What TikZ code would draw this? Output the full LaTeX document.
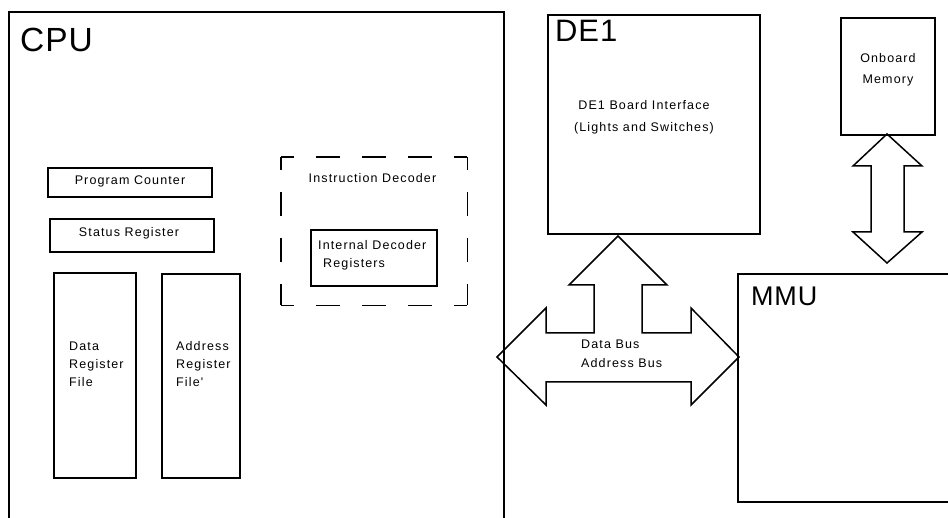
\documentclass[tikz,border=0pt]{standalone}
\usepackage{fontspec}
\setmainfont{Liberation Sans}
\newfontfamily\smallfnt[LetterSpace=9]{Liberation Sans}
\newfontfamily\bigfnt[LetterSpace=3]{Liberation Sans}
\begin{document}
\begin{tikzpicture}[x=1pt,y=-1pt,
  box/.style={draw, line width=1.6pt, rectangle, inner sep=0pt, anchor=north west},
  dline/.style={draw, line width=1.6pt, dash pattern=on 24pt off 22pt},
  lbl/.style={font=\smallfnt\fontsize{12.5}{18}\selectfont, inner sep=0pt},
  big/.style={font=\bigfnt\fontsize{#1}{#1}\selectfont, inner sep=0pt, anchor=base west},
  fat/.style={draw, line width=1.5pt, line join=miter}]
\useasboundingbox (0,0) rectangle (948,518);
\clip (0,0) rectangle (948,518);
% boxes
\node[box, minimum width=495pt, minimum height=530pt] (cpu) at (8,11) {};
\node[box, minimum width=164pt, minimum height=29pt] (pc) at (47,167) {};
\node[box, minimum width=164pt, minimum height=33pt] (sr) at (49,218) {};
\node[box, minimum width=82pt, minimum height=205pt] (drf) at (53,272) {};
\node[box, minimum width=78pt, minimum height=204pt] (arf) at (161,273) {};
\node[inner sep=0pt, minimum width=186pt, minimum height=148pt, anchor=north west] (idec) at (281,157) {};
\draw[dline, dash phase=11pt] (idec.north west) -- (idec.north east);
\draw[dline, dash phase=11pt] (idec.north east) -- (idec.south east);
\draw[dline, dash phase=11pt] (idec.north west) -- (idec.south west);
\draw[dline, dash phase=11pt] (idec.south west) -- (idec.south east);
\node[box, minimum width=126pt, minimum height=56pt] (idr) at (310,229) {};
\node[box, minimum width=212pt, minimum height=219pt] (de1) at (547,14) {};
\node[box, minimum width=94pt, minimum height=117pt] (mem) at (840,17) {};
\node[box, minimum width=240pt, minimum height=228pt] (mmu) at (737,273) {};
% big labels
\node[big=33.5] (cpuL) at (20,52) {CPU};
\node[big=31] (de1L) at (555,42) {DE1};
\node[big=27] (mmuL) at (751,306) {MMU};
% small labels
\node[lbl, anchor=base] (pcL) at (130,185) {Program Counter};
\node[lbl, anchor=base] (srL) at (129,237) {Status Register};
\node[lbl, anchor=base] (idecL) at (372.5,183) {Instruction Decoder};
\node[lbl, anchor=base west] (idrL1) at (318,250) {Internal Decoder};
\node[lbl, anchor=base west] (idrL2) at (323,268) {Registers};
\node[lbl, anchor=base west] (drfL) at (69,351) {Data};
\node[lbl, anchor=base west] (drfL2) at (69,369) {Register};
\node[lbl, anchor=base west] (drfL3) at (69,387) {File};
\node[lbl, anchor=base west] (arfL) at (176,351) {Address};
\node[lbl, anchor=base west] (arfL2) at (176,369) {Register};
\node[lbl, anchor=base west] (arfL3) at (176,387) {File'};
\node[lbl, anchor=base] (de1T1) at (644,110) {DE1 Board Interface};
\node[lbl, anchor=base] (de1T2) at (644,132) {(Lights and Switches)};
\node[lbl, anchor=base] (memT1) at (888,63) {Onboard};
\node[lbl, anchor=base] (memT2) at (888,84) {Memory};
\node[lbl, anchor=base west] (busT1) at (581,349) {Data Bus};
\node[lbl, anchor=base west] (busT2) at (581,368) {Address Bus};
% bus arrow (three-headed)
\coordinate (busL) at (497,357);
\coordinate (busT) at (618,236);
\coordinate (busR) at (739,357);
\draw[fat] (busL) -- (546,308) -- (546,333) -- (594,333) -- (594,285) -- (569,285)
  -- (busT) -- (667,285) -- (642,285) -- (642,333) -- (691,333) -- (691,308)
  -- (busR) -- (691,405) -- (691,382) -- (546,382) -- (546,405) -- cycle;
% memory <-> MMU double arrow
\coordinate (mT) at (887,134);
\coordinate (mB) at (887,263);
\draw[fat] (mT) -- (922,166) -- (904,166) -- (904,232) -- (922,232) -- (mB)
  -- (853,232) -- (871,232) -- (871,166) -- (853,166) -- cycle;
\end{tikzpicture}
\end{document}
